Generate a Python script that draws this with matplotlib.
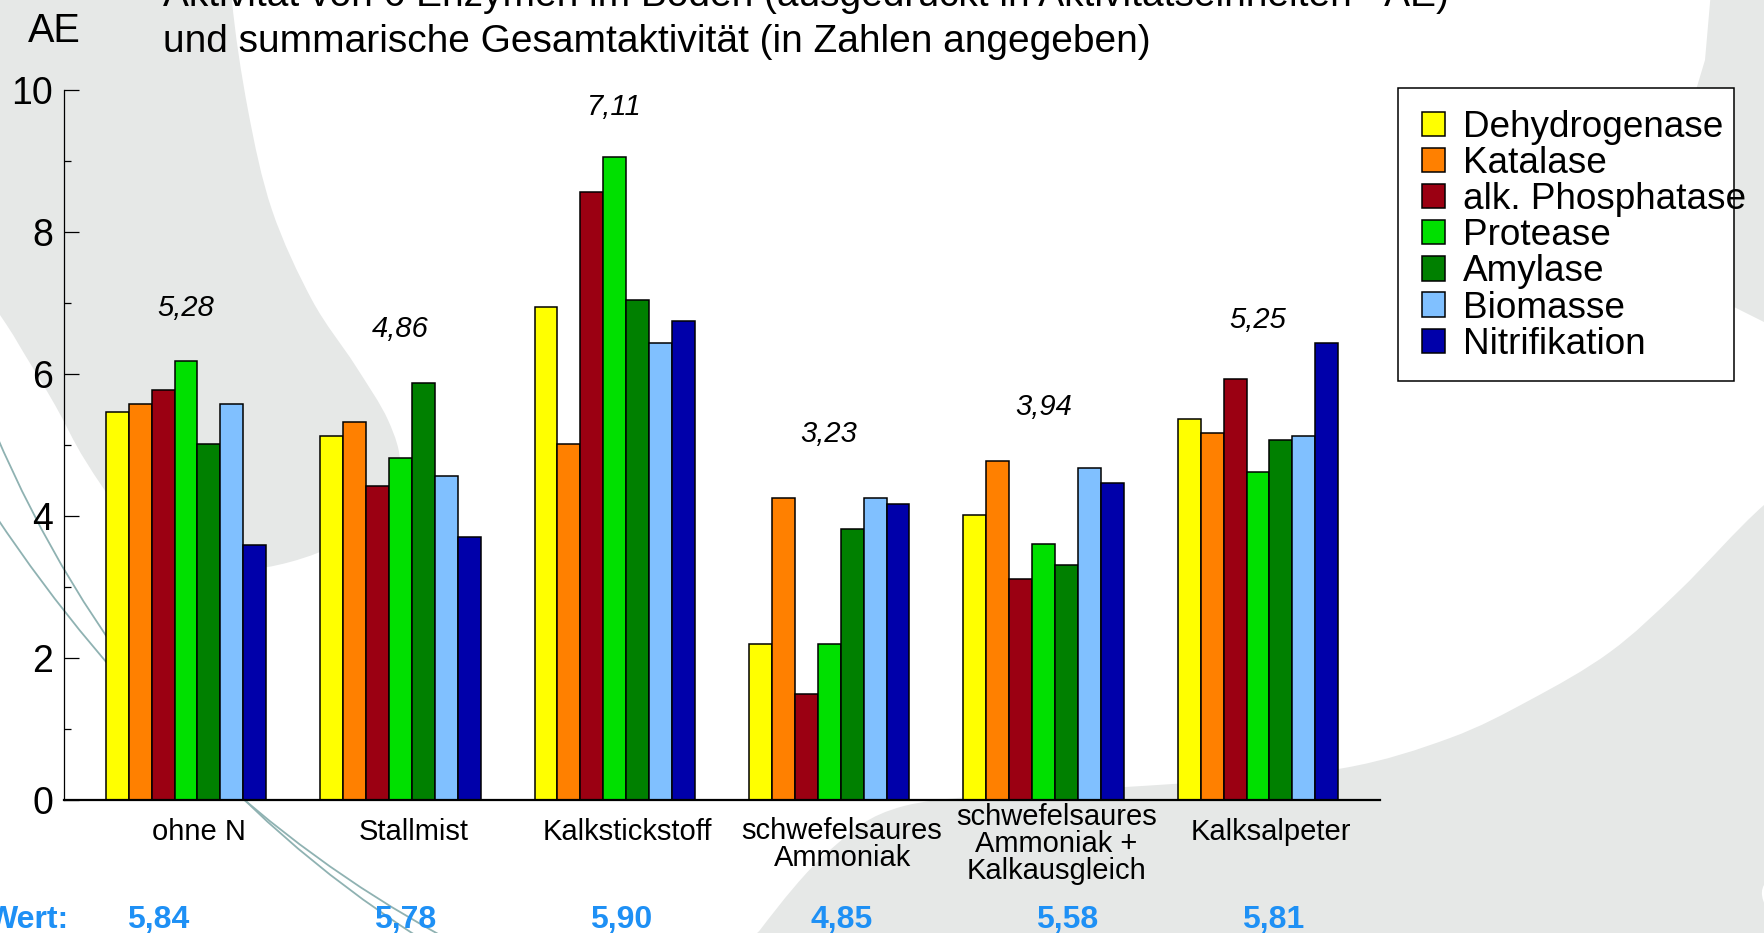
import matplotlib
matplotlib.use('Agg')
import matplotlib.pyplot as plt
import matplotlib.transforms as mtransforms
from matplotlib.patches import Rectangle, PathPatch, Polygon
from matplotlib.path import Path
import numpy as np

plt.rcParams['font.family'] = ['Liberation Sans', 'DejaVu Sans']

# ---------------- data ----------------
categories = ['ohne N', 'Stallmist', 'Kalkstickstoff', 'schwefelsaures\nAmmoniak',
              'schwefelsaures\nAmmoniak +\nKalkausgleich', 'Kalksalpeter']
series_names = ['Dehydrogenase', 'Katalase', 'alk. Phosphatase', 'Protease',
                'Amylase', 'Biomasse', 'Nitrifikation']
dehydrogenase = [5.47, 5.12, 6.94, 2.20, 4.01, 5.37]
katalase = [5.58, 5.32, 5.02, 4.26, 4.77, 5.17]
phosphatase = [5.78, 4.42, 8.56, 1.49, 3.11, 5.93]
protease = [6.18, 4.82, 9.05, 2.20, 3.61, 4.62]
amylase = [5.02, 5.88, 7.04, 3.81, 3.31, 5.07]
biomasse = [5.58, 4.57, 6.43, 4.26, 4.67, 5.12]
nitrifikation = [3.59, 3.71, 6.74, 4.17, 4.47, 6.43]
gesamt_labels = ['5,28', '4,86', '7,11', '3,23', '3,94', '5,25']
wert_labels = ['5,84', '5,78', '5,90', '4,85', '5,58', '5,81']
yticks = [0, 2, 4, 6, 8, 10]

# ---------------- positions / styles ----------------
series_values = [dehydrogenase, katalase, phosphatase, protease, amylase, biomasse, nitrifikation]
colors = ['#ffff00', '#ff8000', '#9b0012', '#00e000', '#008000', '#80c0ff', '#0000aa']
gesamt_y = [6.93, 6.64, 9.76, 5.15, 5.53, 6.76]
wert_x = [-0.13, 1.02, 2.03, 3.06, 4.11, 5.07]

W, H = 1764, 933
fig = plt.figure(figsize=(W / 100, H / 100), dpi=100)
fig.patch.set_facecolor('white')


def fx(p):
    return (p[0] / W, 1 - p[1] / H)


def smooth_path(pts, closed=True):
    pts = np.asarray([fx(p) for p in pts], float)
    n = len(pts)
    verts = [pts[0]]
    codes = [Path.MOVETO]
    rng = range(n) if closed else range(n - 1)
    for i in rng:
        p0 = pts[(i - 1) % n] if (closed or i > 0) else pts[i]
        p1 = pts[i]
        p2 = pts[(i + 1) % n]
        p3 = pts[(i + 2) % n] if (closed or i + 2 < n) else pts[i + 1]
        c1 = p1 + (p2 - p0) / 6
        c2 = p2 - (p3 - p1) / 6
        verts += [c1, c2, p2]
        codes += [Path.CURVE4] * 3
    if closed:
        verts.append(pts[0])
        codes.append(Path.CLOSEPOLY)
    return Path(verts, codes)


gray = '#e6e8e7'
# decorative background swooshes
crescent = [(-80, -80), (232, -80), (232, 0), (248, 110), (272, 210), (312, 300),
            (355, 365), (388, 420), (400, 465), (385, 505), (345, 540), (290, 562),
            (240, 568), (180, 552), (125, 515), (85, 460), (55, 405), (25, 355),
            (0, 315), (-80, 200)]
fig.patches.append(PathPatch(smooth_path(crescent), transform=fig.transFigure,
                             facecolor=gray, edgecolor='none', zorder=-3))
band = [(700, 1020), (760, 930), (830, 850), (904, 806), (1050, 792), (1200, 782),
        (1344, 768), (1450, 738), (1530, 700), (1610, 652), (1680, 590), (1764, 505),
        (1850, 440), (1850, 800), (1764, 885), (1720, 1020)]
fig.patches.append(PathPatch(smooth_path(band), transform=fig.transFigure,
                             facecolor=gray, edgecolor='none', zorder=-3))
corner = [(1712, -20), (1800, -20), (1800, 335), (1764, 322), (1690, 285),
          (1643, 256), (1672, 170), (1705, 60)]
fig.patches.append(Polygon([fx(p) for p in corner], closed=True, transform=fig.transFigure,
                           facecolor=gray, edgecolor='none', zorder=-3))
for p0, c, p2 in [((-5, 432), (132, 753), (415, 935)), ((-5, 515), (180, 793), (440, 935))]:
    path = Path([fx(p0), fx(c), fx(p2)], [Path.MOVETO, Path.CURVE3, Path.CURVE3])
    fig.patches.append(PathPatch(path, transform=fig.transFigure, facecolor='none',
                                 edgecolor='#8fb2b2', lw=1.3, zorder=-2))

# ---------------- axes ----------------
ax = fig.add_axes([64 / W, 1 - 800 / H, (1380 - 64) / W, 710 / H])
ax.patch.set_alpha(0)

x = np.arange(len(categories))
bw = 0.107
containers = []
for j, (name, vals, col) in enumerate(zip(series_names, series_values, colors)):
    bc = ax.bar(x + (j - 3) * bw, vals, width=bw, color=col, edgecolor='black',
                linewidth=1.1, label=name, zorder=2)
    containers.append(bc)

ax.set_xlim(-0.569, 5.569)
ax.set_ylim(0, 10)
ax.spines['top'].set_visible(False)
ax.spines['right'].set_visible(False)
ax.spines['left'].set_linewidth(0.9)
ax.spines['bottom'].set_linewidth(1.6)
ax.spines['bottom'].set_zorder(3)

ax.set_yticks(yticks)
ax.set_yticklabels([str(v) for v in yticks])
ax.set_yticks([1, 3, 5, 7, 9], minor=True)
ax.tick_params(axis='y', which='major', direction='in', length=10.5, width=0.9,
               labelsize=27, pad=8)
ax.tick_params(axis='y', which='minor', direction='in', length=5, width=0.9)
ax.set_xticks(x)
ax.tick_params(axis='x', which='major', direction='in', length=8.5, width=0.9,
               color='#333333', labelbottom=False)

# category labels
for xi, lab in zip(x, categories):
    off = 23.4 if '\n' not in lab else 31.8
    ax.annotate(lab, xy=(xi + 0.06, 0), xycoords=('data', 'axes fraction'),
                xytext=(0, -off), textcoords='offset points', ha='center', va='center',
                fontsize=21, linespacing=0.95, annotation_clip=False)

# totals above groups
for xi, lab, yy in zip(x, gesamt_labels, gesamt_y):
    ax.text(xi, yy, lab, ha='center', va='center', fontsize=21, style='italic')

# bottom row
blend = mtransforms.blended_transform_factory(ax.transData, fig.transFigure)
blue = '#1e90f5'
for xv, lab in zip(wert_x, wert_labels):
    ax.text(xv, 1 - 920 / H, lab, transform=blend, ha='center', va='center',
            fontsize=23, fontweight='bold', color=blue, clip_on=False)
fig.text(69 / W, 1 - 920 / H, 'Wert:', ha='right', va='center', fontsize=23,
         fontweight='bold', color=blue)

# titles
fig.text(28 / W, 1 - 42 / H, 'AE', ha='left', va='baseline', fontsize=28.5)
fig.text(163 / W, 1 - 6 / H,
         'Aktivität von 6 Enzymen im Boden (ausgedrückt in Aktivitätseinheiten - AE)',
         ha='left', va='baseline', fontsize=28)
fig.text(163 / W, 1 - 52 / H, 'und summarische Gesamtaktivität (in Zahlen angegeben)',
         ha='left', va='baseline', fontsize=28)

# legend with hand-drawn frame
fig.patches.append(Rectangle(fx((1398, 381)), 336 / W, 293 / H, transform=fig.transFigure,
                             facecolor='white', edgecolor='black', lw=1.1, zorder=4))
leg = fig.legend(handles=containers, labels=series_names, loc='upper left',
                 bbox_to_anchor=fx((1422, 110)), frameon=False, fontsize=26.6,
                 handlelength=0.63, handleheight=0.63, handletextpad=0.48,
                 labelspacing=0.03, borderpad=0, borderaxespad=0)
leg.set_zorder(6)

fig.savefig('out.png', dpi=100)
